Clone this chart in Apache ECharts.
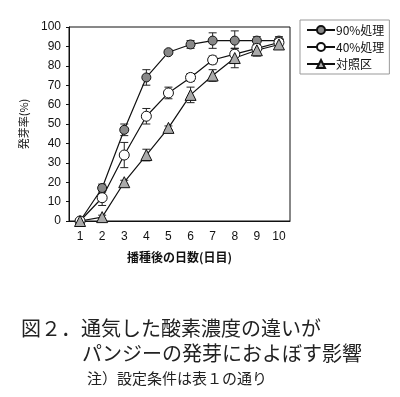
<!DOCTYPE html>
<html>
<head>
<meta charset="utf-8">
<script src="https://cdn.jsdelivr.net/npm/echarts@6/dist/echarts.min.js"></script>
<style>
  html, body { margin: 0; padding: 0; background: #fff; }
  #chart { width: 400px; height: 397px; }
</style>
</head>
<body>
<div id="chart"></div>
<script>
var days = ["1", "2", "3", "4", "5", "6", "7", "8", "9", "10"];
var yTicks = [0, 10, 20, 30, 40, 50, 60, 70, 80, 90, 100];

var names = ["90%処理", "40%処理", "対照区"];
var v90 = [0, 17, 47, 74, 87, 91, 93, 93, 93, 93];
var e90 = [0, 2, 3, 4, 1, 2, 4, 5, 2, 2];
var v40 = [0, 12, 34, 54, 66, 74, 83, 86, 89, 92];
var e40 = [0, 4, 6.5, 4, 3, 2, 2, 3, 2, 2];
var vCtl = [0, 2, 20, 34, 48, 65, 75, 84, 88, 91];
var eCtl = [0, 1, 1, 3, 1, 4, 3, 5, 3, 2];

var font = "Liberation Sans, Arial, sans-serif";
var jp = "Noto Sans CJK JP";

function errData(vals, errs) {
  return vals.map(function (v, i) { return [i, v - errs[i], v + errs[i]]; });
}

function errSeries(vals, errs) {
  return {
    type: "custom",
    silent: true,
    z: 1,
    data: errData(vals, errs),
    renderItem: function (params, api) {
      var lo = api.coord([api.value(0), api.value(1)]);
      var hi = api.coord([api.value(0), api.value(2)]);
      var w = 4;
      var st = { stroke: "#222", lineWidth: 1 };
      return {
        type: "group",
        children: [
          { type: "line", shape: { x1: lo[0], y1: lo[1], x2: hi[0], y2: hi[1] }, style: st },
          { type: "line", shape: { x1: lo[0] - w, y1: lo[1], x2: lo[0] + w, y2: lo[1] }, style: st },
          { type: "line", shape: { x1: hi[0] - w, y1: hi[1], x2: hi[0] + w, y2: hi[1] }, style: st }
        ]
      };
    }
  };
}

function lineSeries(name, vals, symbol, fill, size) {
  return {
    name: name,
    type: "line",
    data: vals,
    symbol: symbol,
    symbolSize: size,
    showAllSymbol: true,
    z: 3,
    lineStyle: { color: "#111", width: 1.2 },
    itemStyle: { color: fill, borderColor: "#111", borderWidth: 1 }
  };
}

var chart = echarts.init(document.getElementById("chart"));
chart.setOption({
  animation: false,
  backgroundColor: "#fff",
  title: [
    { text: "図２．通気した酸素濃度の違いが", left: 16, top: 313,
      textStyle: { fontFamily: jp, fontSize: 20, fontWeight: "normal", color: "#222" } },
    { text: "パンジーの発芽におよぼす影響", left: 77, top: 338,
      textStyle: { fontFamily: jp, fontSize: 20, fontWeight: "normal", color: "#222" } },
    { text: "注）設定条件は表１の通り", left: 82, top: 366,
      textStyle: { fontFamily: jp, fontSize: 15, fontWeight: "normal", color: "#222" } }
  ],
  legend: {
    orient: "vertical",
    left: 300,
    top: 20,
    padding: [4, 5, 4, 6],
    itemGap: 5,
    itemWidth: 28,
    itemHeight: 10,
    borderColor: "#999",
    borderWidth: 1,
    data: names,
    textStyle: { fontFamily: jp, fontSize: 12, color: "#111", padding: [0, 0, 0, -4] }
  },
  grid: {
    left: 69, right: 110, top: 27, bottom: 176,
    show: true, borderColor: "#111", borderWidth: 1
  },
  xAxis: {
    type: "category",
    data: days,
    boundaryGap: true,
    name: "播種後の日数(日目)",
    nameLocation: "middle",
    nameGap: 30,
    nameTextStyle: { fontFamily: jp, fontSize: 12, fontWeight: "bold", color: "#111" },
    axisLine: { lineStyle: { color: "#111" } },
    axisTick: { inside: true, length: 4, lineStyle: { color: "#111" } },
    axisLabel: { fontFamily: font, fontSize: 12, color: "#111", margin: 10 }
  },
  yAxis: {
    type: "value",
    min: 0, max: 100, interval: 10,
    name: "発芽率(%)",
    nameLocation: "middle",
    nameGap: 40,
    nameTextStyle: { fontFamily: jp, fontSize: 11, color: "#111" },
    splitLine: { show: false },
    axisLine: { show: true, lineStyle: { color: "#111" } },
    axisTick: { show: true, length: 3, lineStyle: { color: "#111" } },
    axisLabel: {
      fontFamily: font, fontSize: 12, color: "#111", margin: 8,
      formatter: function (v) { return yTicks.indexOf(v) >= 0 ? String(v) : ""; }
    }
  },
  series: [
    errSeries(v90, e90),
    errSeries(v40, e40),
    errSeries(vCtl, eCtl),
    lineSeries(names[0], v90, "circle", "#888", 9),
    lineSeries(names[1], v40, "circle", "#fff", 10),
    lineSeries(names[2], vCtl, "triangle", "#aaa", 11)
  ]
});
</script>
</body>
</html>
